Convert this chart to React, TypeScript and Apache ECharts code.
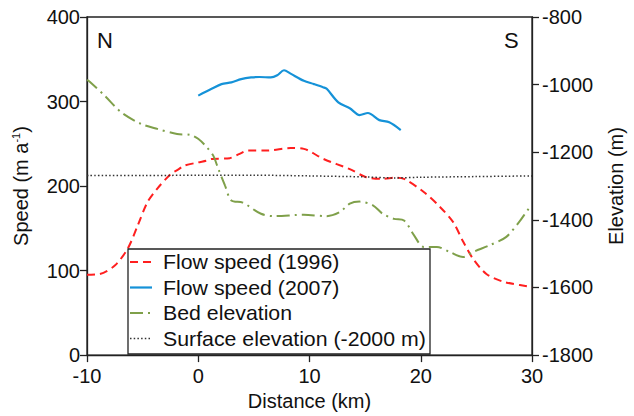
import React, { useEffect, useRef } from "react";
import * as echarts from "echarts";

// Along-flow profile, distance in km (N -> S)
const distance1996 = [-10, -8.85, -7.5, -6.34, -5.45, -4.56, -3.68, -2.49, -1.75, -1.3, 0, 0.76, 1.2, 2.83, 3.72, 4.46, 6.23, 8.3, 9.49, 11.26, 13.62, 15.1, 16.58, 17.76, 18.5, 20.27, 21.75, 22.93, 23.82, 24.7, 25.9, 27.37, 29.7, 30];
const speed1996 = [95, 96, 106, 126, 153, 181, 197, 214, 220, 224, 228, 230, 232, 233, 238, 242, 242, 245, 244, 232, 220, 210.5, 208.5, 210, 208.5, 193, 175, 157, 134, 114, 96, 87, 81, 80];

const distance2007 = [0, 1.2, 2.09, 2.98, 3.86, 4.75, 5.5, 6.52, 7.1, 7.71, 8.3, 9.49, 10.4, 11.26, 11.55, 12.59, 13.62, 14.5, 15.25, 16.28, 17.17, 18.2];
const speed2007 = [307, 315, 320.6, 322.6, 326.5, 328.5, 329, 328.5, 331, 337, 333, 324.5, 320.6, 316.7, 315, 299, 292, 284, 286.4, 278, 275.4, 266.3];

const distanceBed = [-10, -9.73, -8.4, -6.92, -5.15, -3.68, -1.9, -0.71, 0.02, 0.76, 1.35, 1.8, 2.4, 2.98, 4.0, 5.64, 6.82, 9.49, 11.55, 12.73, 13.62, 14.5, 15.7, 16.58, 17.6, 18.5, 19.4, 20.27, 21.45, 22.6, 23.8, 24.7, 26.2, 27.66, 28.85, 29.7, 30];
const bedElevation = [-986, -992, -1033, -1082, -1116, -1131, -1146, -1149, -1161, -1185, -1210, -1249, -1298, -1343, -1349, -1382, -1389, -1385, -1389, -1377, -1352, -1346, -1357, -1382, -1397, -1402, -1446, -1480, -1480, -1495, -1510, -1495, -1475, -1451, -1406, -1367, -1358];

const distanceSurface = [-10, -5, 0, 5, 10, 15, 17.5, 20, 25, 30];
const surfaceElevation = [-1269, -1269, -1268, -1268, -1270, -1273, -1276, -1274, -1272, -1270];

const seriesNames = [
  "Flow speed (1996)",
  "Flow speed (2007)",
  "Bed elevation",
  "Surface elevation (-2000 m)",
];

const xTicks = { min: -10, max: 30, interval: 10 };
const speedTicks = { min: 0, max: 400, interval: 100 };
const elevationTicks = { min: -1800, max: -800, interval: 200 };

const FONT = "'Liberation Sans', Arial, Helvetica, sans-serif";
const INK = "#222";
const TEXT = "#111";
const FS = 20;

// line look of each series, shared by the plot and the key
const lineLooks = [
  { color: "#ff1f1f", width: 2, dash: [8, 5] as number[] | null },
  { color: "#1592d8", width: 2.2, dash: null },
  { color: "#7fa04a", width: 2, dash: [13, 5, 2, 5] },
  { color: "#333", width: 1.5, dash: [1.5, 2.2] },
];

const pairs = (xs: number[], ys: number[]) => xs.map((x, i) => [x, ys[i]]);

export default function App() {
  const ref = useRef<HTMLDivElement>(null);

  useEffect(() => {
    if (!ref.current) return;
    const chart = echarts.init(ref.current, undefined, { renderer: "svg" });

    const axisCommon = {
      axisLine: { show: true, onZero: false, lineStyle: { color: INK, width: 1.3 } },
      axisTick: { show: true, length: 7, lineStyle: { color: INK, width: 1.3 } },
      splitLine: { show: false },
      nameLocation: "middle" as const,
      nameTextStyle: { color: TEXT, fontSize: FS, fontFamily: FONT },
    };

    const seriesData = [
      { data: pairs(distance1996, speed1996), axis: 0 },
      { data: pairs(distance2007, speed2007), axis: 0 },
      { data: pairs(distanceBed, bedElevation), axis: 1 },
      { data: pairs(distanceSurface, surfaceElevation), axis: 1 },
    ];

    // key box drawn with graphic elements so each entry shows its line pattern
    const keyLeft = 128;
    const keyTop = 249;
    const rowGap = 25.5;
    const keyItems: any[] = [
      {
        type: "rect",
        shape: { x: keyLeft, y: keyTop, width: 302, height: 105 },
        style: { fill: "#fff", stroke: INK, lineWidth: 1.3 },
        z: 10,
      },
    ];
    seriesNames.forEach((name, i) => {
      const y = keyTop + 13 + i * rowGap;
      const look = lineLooks[i];
      keyItems.push({
        type: "line",
        shape: { x1: keyLeft + 2, y1: y, x2: keyLeft + 24, y2: y },
        style: { stroke: look.color, lineWidth: look.width, lineDash: look.dash || undefined },
        z: 11,
      });
      keyItems.push({
        type: "text",
        x: keyLeft + 35,
        y,
        scaleX: 1.065,
        style: {
          text: name,
          fontSize: FS,
          fontFamily: FONT,
          fill: TEXT,
          verticalAlign: "middle",
          align: "left",
        },
        z: 11,
      });
    });

    chart.setOption({
      animation: false,
      backgroundColor: "#fff",
      grid: {
        left: 87,
        right: 96,
        top: 17,
        bottom: 59,
        show: true,
        borderColor: INK,
        borderWidth: 1.3,
      },
      xAxis: {
        type: "value",
        ...xTicks,
        ...axisCommon,
        name: "Distance (km)",
        nameGap: 34,
        axisLabel: { color: TEXT, fontSize: FS, fontFamily: FONT, margin: 11 },
      },
      yAxis: [
        {
          type: "value",
          position: "left",
          ...speedTicks,
          ...axisCommon,
          name: "Speed (m a{sup|-1})",
          nameGap: 55,
          nameTextStyle: {
            color: TEXT,
            fontSize: FS,
            fontFamily: FONT,
            lineHeight: 22,
            rich: {
              sup: { fontSize: 11, fontFamily: FONT, color: TEXT, verticalAlign: "top", lineHeight: 22 },
            },
          },
          axisLabel: { color: TEXT, fontSize: FS, fontFamily: FONT, margin: 7 },
        },
        {
          type: "value",
          position: "right",
          ...elevationTicks,
          ...axisCommon,
          name: "Elevation (m)",
          nameGap: 74,
          axisLabel: {
            color: TEXT,
            fontSize: FS,
            fontFamily: FONT,
            margin: 10,
            formatter: (v: number) => String(v),
          },
        },
      ],
      graphic: [
        {
          type: "text",
          left: 97,
          top: 29,
          style: { text: "N", fontSize: 22, fontFamily: FONT, fill: TEXT },
        },
        {
          type: "text",
          left: 504,
          top: 29,
          style: { text: "S", fontSize: 22, fontFamily: FONT, fill: TEXT },
        },
        ...keyItems,
      ],
      series: seriesNames.map((name, i) => ({
        name,
        type: "line",
        yAxisIndex: seriesData[i].axis,
        data: seriesData[i].data,
        smooth: 0.3,
        showSymbol: false,
        symbol: "none",
        lineStyle: {
          color: lineLooks[i].color,
          width: lineLooks[i].width,
          type: lineLooks[i].dash || "solid",
        },
        itemStyle: { color: lineLooks[i].color },
        z: 3,
      })),
    });

    return () => chart.dispose();
  }, []);

  return <div ref={ref} style={{ width: 634, height: 416, position: "absolute", left: 0, top: 0 }} />;
}
